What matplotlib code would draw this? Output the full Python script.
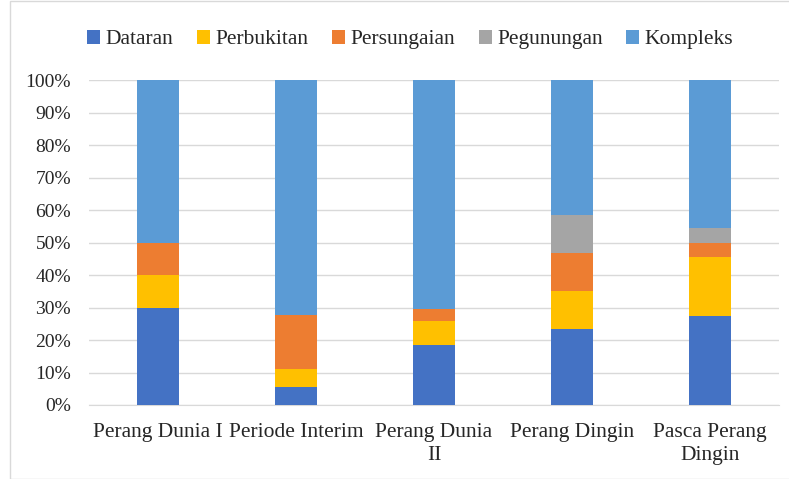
import numpy as np
import matplotlib.pyplot as plt
from matplotlib.patches import Rectangle

plt.rcParams['font.family'] = ['Liberation Serif', 'DejaVu Serif']

categories = ['Perang Dunia I', 'Periode Interim', 'Perang Dunia\nII', 'Perang Dingin', 'Pasca Perang\nDingin']
series = ['Dataran', 'Perbukitan', 'Persungaian', 'Pegunungan', 'Kompleks']
colors = ['#4472C4', '#FFC000', '#ED7D31', '#A5A5A5', '#5B9BD5']

dataran = [30.0, 5.6, 18.5, 23.5, 27.3]
perbukitan = [10.0, 5.6, 7.4, 11.5, 18.2]
persungaian = [10.0, 16.6, 3.7, 11.9, 4.5]
pegunungan = [0.0, 0.0, 0.0, 11.5, 4.5]
kompleks = [50.0, 72.2, 70.4, 41.6, 45.5]

values = [dataran, perbukitan, persungaian, pegunungan, kompleks]

fig = plt.figure(figsize=(7.89, 4.79), dpi=100)
ax = fig.add_axes([0.1128, 0.1545, 0.8745, 0.678])

x = np.arange(len(categories))
bottom = np.zeros(len(categories))
for name, vals, c in zip(series, values, colors):
    ax.bar(x, vals, 0.31, bottom=bottom, color=c, label=name, zorder=3)
    bottom += np.array(vals)

ax.set_xlim(-0.5, len(categories) - 0.5)
ax.set_ylim(0, 100)
ax.set_yticks(np.arange(0, 101, 10))
ax.set_yticklabels([f'{v}%' for v in range(0, 101, 10)], fontsize=14, color='#262626')
ax.set_xticks(x)
ax.set_xticklabels(categories, fontsize=15.5, color='#262626', linespacing=1.3)
ax.tick_params(length=0)
ax.tick_params(axis='x', pad=13)
ax.tick_params(axis='y', pad=13)
ax.grid(axis='y', color='#D9D9D9', linewidth=1, zorder=0)
for s in ['top', 'right', 'left']:
    ax.spines[s].set_visible(False)
ax.spines['bottom'].set_color('#D9D9D9')

fig.legend(*ax.get_legend_handles_labels(), loc='center', bbox_to_anchor=(0.52, 0.917),
           ncol=5, frameon=False, fontsize=15.5, handlelength=0.6, handleheight=0.6,
           handletextpad=0.25, columnspacing=1.1, labelcolor='#262626')

fig.patches.append(Rectangle((0.013, 0.0), 0.99, 0.998, transform=fig.transFigure,
                             fill=False, edgecolor='#D9D9D9', linewidth=1))

plt.savefig('out.png', dpi=100)
